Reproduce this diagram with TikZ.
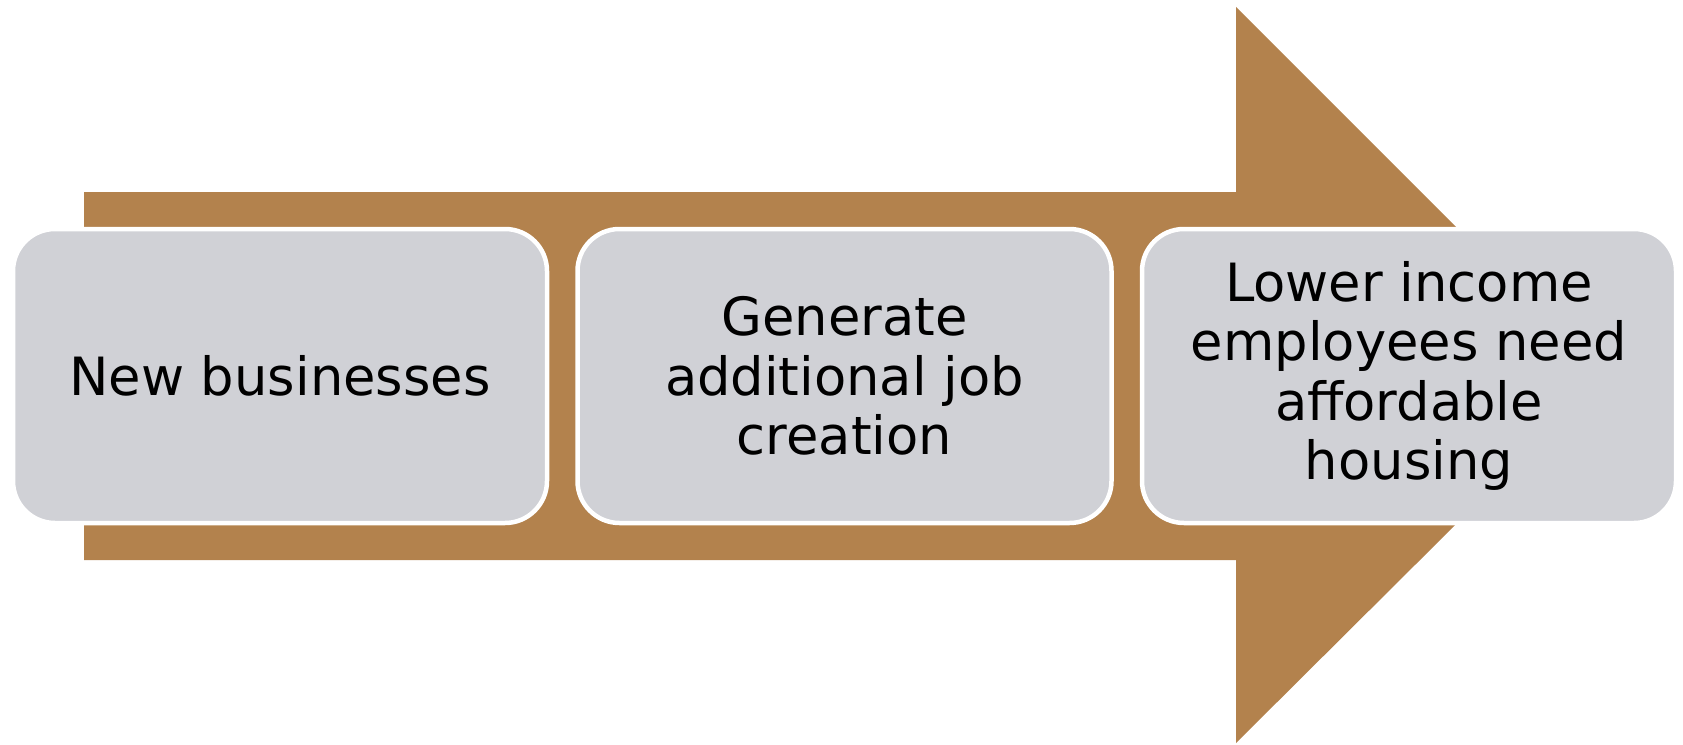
\documentclass[tikz,border=0pt]{standalone}
\usepackage{fontspec}
\setmainfont{DejaVu Sans}
\usepackage{tikz}
\usetikzlibrary{positioning}
\definecolor{arrowbrown}{RGB}{179,130,77}
\definecolor{boxgray}{RGB}{208,209,214}

\begin{document}
\begin{tikzpicture}[
  stagebox/.style={draw=white,line width=0.045cm,fill=boxgray,rounded corners=0.42cm,
    minimum width=5.34cm,minimum height=2.94cm,align=center,
    font=\fontsize{15}{16.9}\selectfont},
  node distance=0.26cm]
\useasboundingbox (0,0) rectangle (16.83,7.44);
% big arrow behind the boxes
\fill[arrowbrown] (0.84,1.84) -- (0.84,5.52) -- (12.36,5.52) -- (12.36,7.37)
  -- (16.05,3.68) -- (12.36,0.01) -- (12.36,1.84) -- cycle;
\node[stagebox] (biz) at (2.80,3.68) {New businesses};
\node[stagebox,right=of biz] (jobs) {Generate\\additional job\\creation};
\node[stagebox,right=of jobs] (housing) {Lower income\\employees need\\affordable\\housing};
\end{tikzpicture}
\end{document}
